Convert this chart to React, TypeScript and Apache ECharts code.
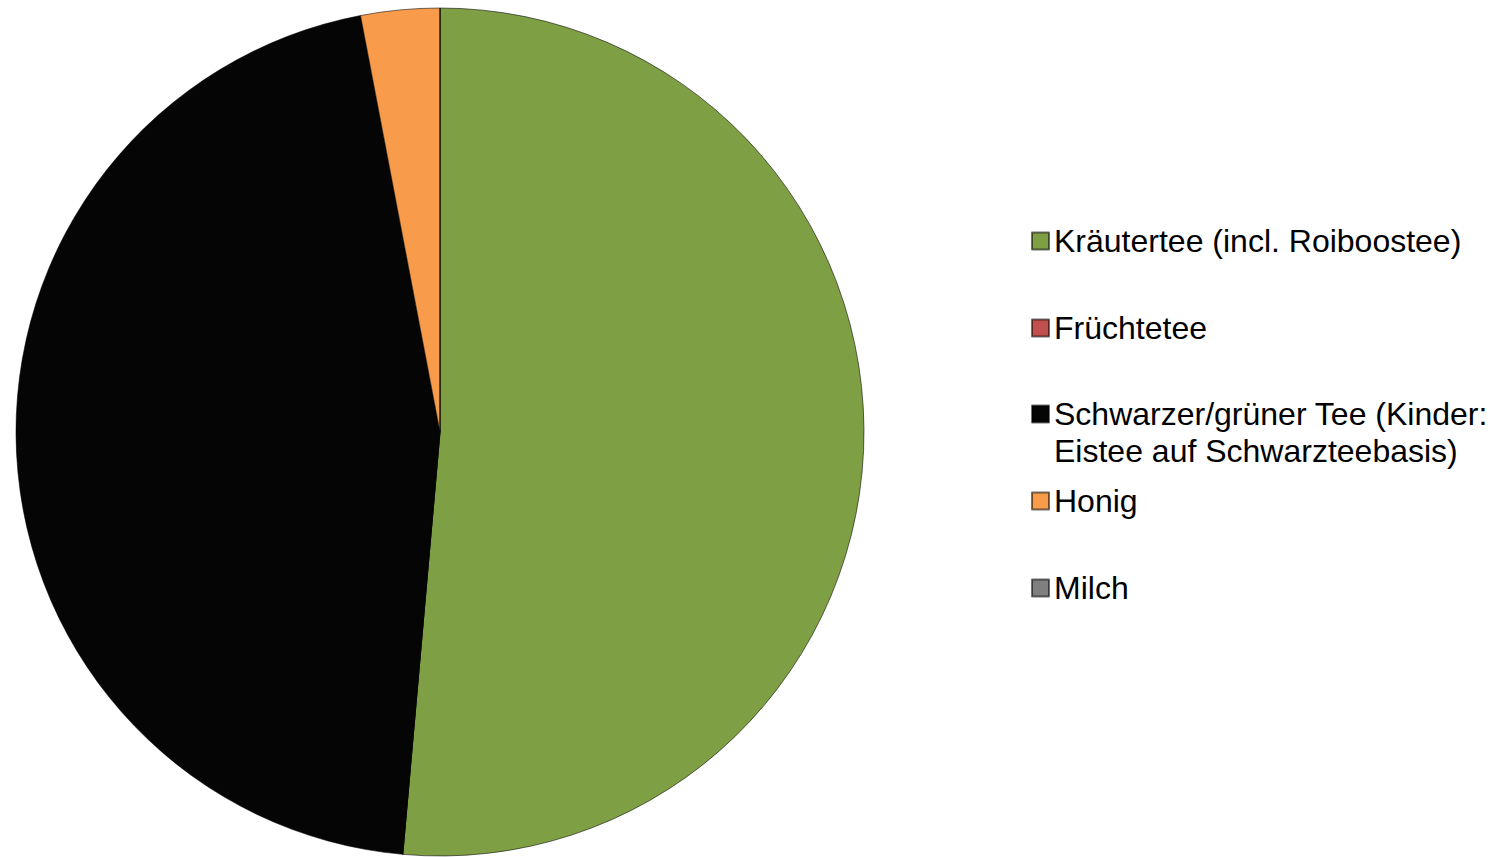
import React, { useEffect, useRef } from "react";
import * as echarts from "echarts";

const categories = [
  "Kräutertee (incl. Roiboostee)",
  "Früchtetee",
  "Schwarzer/grüner Tee (Kinder: Eistee auf Schwarzteebasis)",
  "Honig",
  "Milch",
];
const values = [51.4, 0, 45.6, 3.0, 0];
const colors = ["#7F9F45", "#C0504D", "#050505", "#F89C4C", "#7F7F7F"];
const legendTops = [241, 328, 414, 501, 588];

export default function App() {
  const ref = useRef<HTMLDivElement>(null);
  useEffect(() => {
    document.body.style.margin = "0";
    const chart = echarts.init(ref.current!, null, { renderer: "svg" });
    const fontSize = 32;
    const family = "Arial, 'Liberation Sans', sans-serif";
    const legends = categories.map((name, i) => ({
      data: [name],
      left: 1031,
      top: legendTops[i] - 18,
      orient: "vertical",
      itemWidth: 17,
      itemHeight: 17,
      itemGap: 0,
      padding: 0,
      icon: "rect",
      selectedMode: false,
      formatter: (n: string) =>
        n.startsWith("Schwarzer") ? "Schwarzer/grüner Tee (Kinder:" : n,
      textStyle: {
        fontFamily: family,
        fontSize,
        color: "#000",
        padding: [0, 0, 0, 0],
        lineHeight: 36,
      },
    }));
    chart.setOption({
      animation: false,
      color: colors,
      legend: legends,
      graphic: [
        {
          type: "text",
          left: 1054,
          top: 451 - 18,
          style: {
            text: "Eistee auf Schwarzteebasis)",
            font: `${fontSize}px ${family}`,
            fill: "#000",
            lineHeight: 36,
          },
        },
      ],
      series: [
        {
          type: "pie",
          center: [440, 432],
          radius: 424,
          startAngle: 90,
          clockwise: true,
          label: { show: false },
          labelLine: { show: false },
          emphasis: { disabled: true },
          itemStyle: { borderColor: "rgba(0,0,0,0.55)", borderWidth: 1 },
          data: categories.map((name, i) => ({ name, value: values[i] })),
        },
      ],
    });
    return () => chart.dispose();
  }, []);
  return <div ref={ref} style={{ width: 1497, height: 857 }} />;
}
